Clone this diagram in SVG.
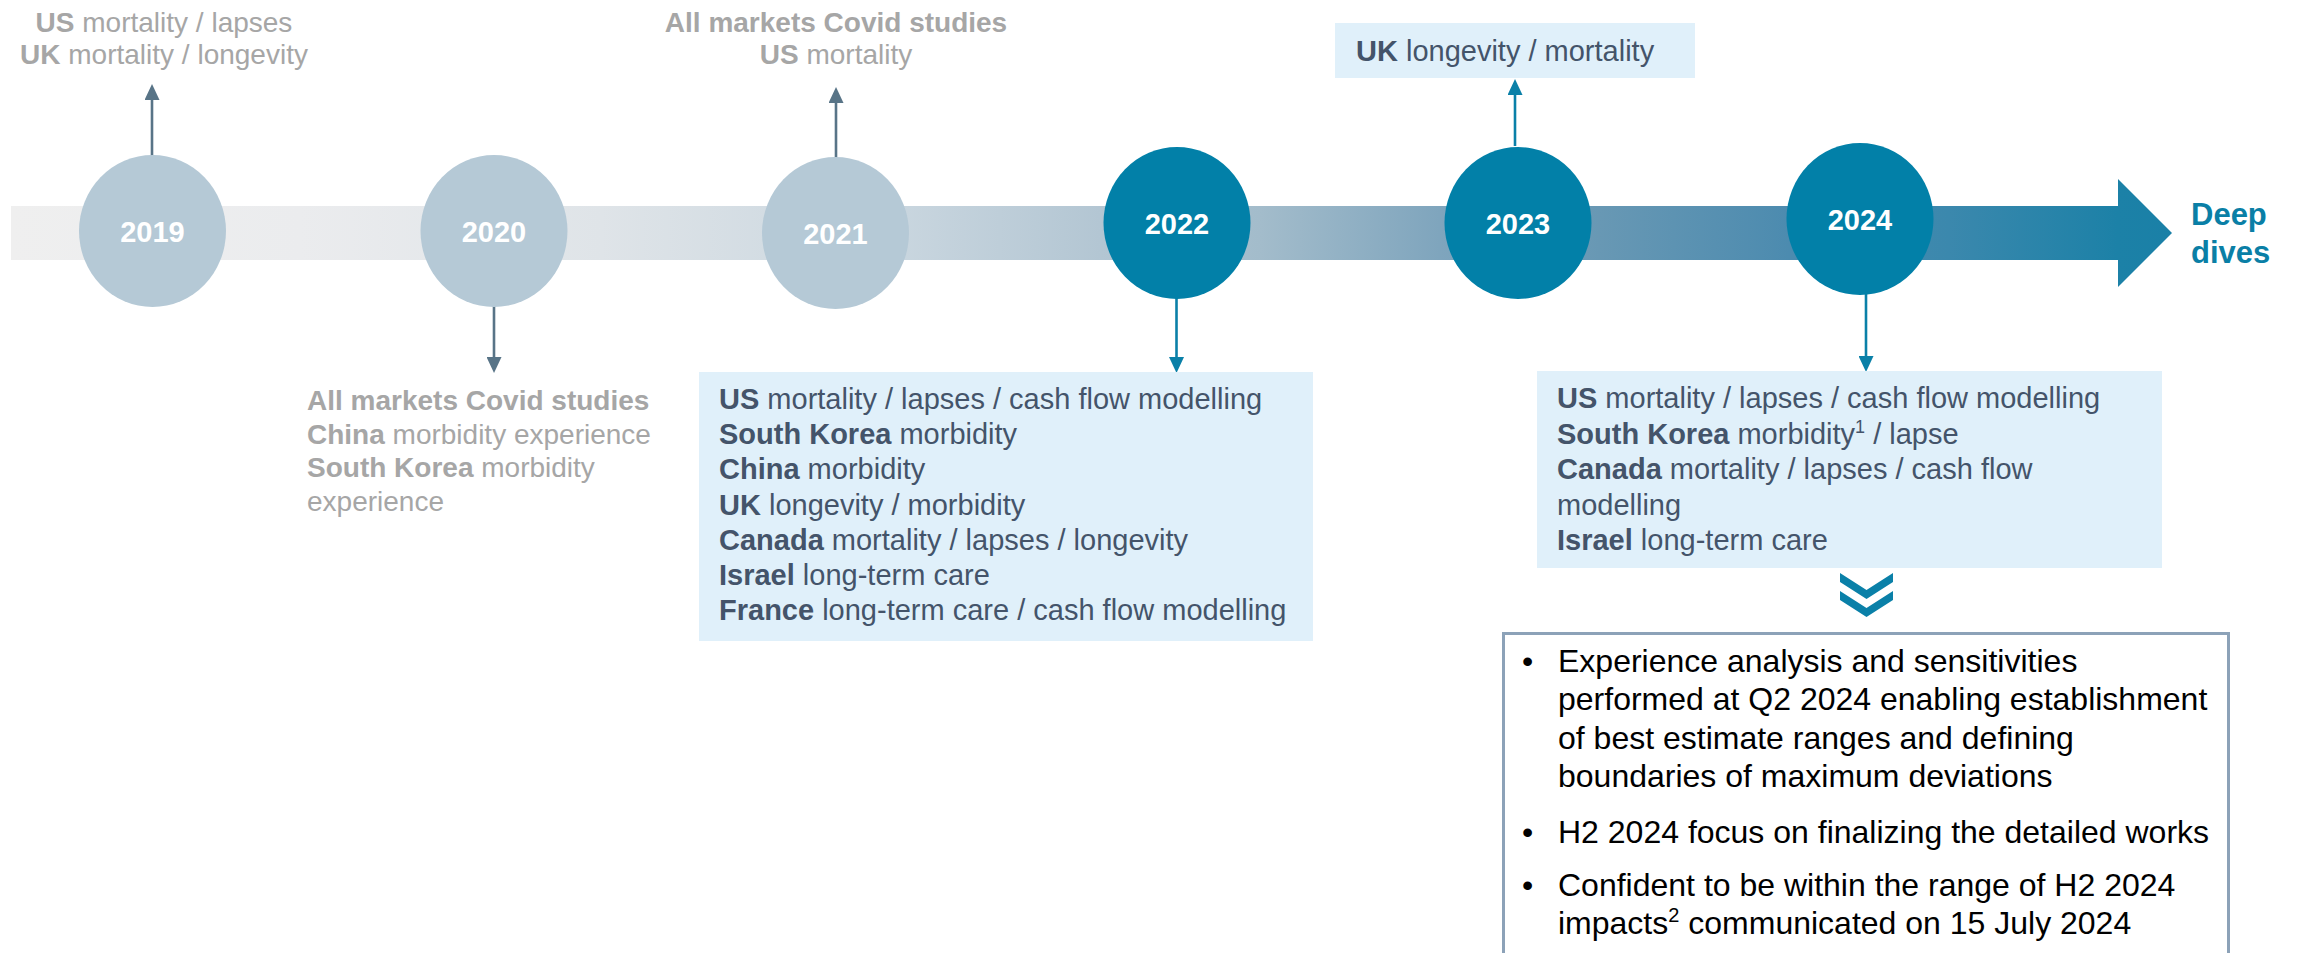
<svg xmlns="http://www.w3.org/2000/svg" width="2300" height="953" viewBox="0 0 2300 953">
<style>
text{font-family:"Liberation Sans",Arial,sans-serif}
.b{font-weight:bold}
.grey{fill:#a6a6a6;font-size:28px}
.box{fill:#e0f0fa}
.bt{fill:#44546a;font-size:29px}
.yr{fill:#ffffff;font-size:29px;font-weight:bold;text-anchor:middle}
.light{fill:#b5c9d6}
.dark{fill:#0280a8}
.ls{stroke:#587487;stroke-width:2.6;fill:none}
.lt{stroke:#0a80a8;stroke-width:2.6;fill:none}
.bul{fill:#000000;font-size:32px}
</style>
<defs>
<linearGradient id="bar" gradientUnits="userSpaceOnUse" x1="11" y1="0" x2="2172" y2="0">
<stop offset="0" stop-color="#efefef"/>
<stop offset="0.134" stop-color="#ebecee"/>
<stop offset="0.273" stop-color="#dfe4e8"/>
<stop offset="0.411" stop-color="#c9d6df"/>
<stop offset="0.504" stop-color="#b3c6d3"/>
<stop offset="0.578" stop-color="#a3bccb"/>
<stop offset="0.661" stop-color="#7fa5bd"/>
<stop offset="0.735" stop-color="#6898b4"/>
<stop offset="0.823" stop-color="#4c8baf"/>
<stop offset="0.897" stop-color="#3b88ad"/>
<stop offset="0.975" stop-color="#1c81a7"/>
<stop offset="1" stop-color="#1a80a7"/>
</linearGradient>
<marker id="ms" markerUnits="userSpaceOnUse" markerWidth="16" markerHeight="15" refX="0" refY="7.5" orient="auto" viewBox="0 0 16 15">
<path d="M0,0 L16,7.5 L0,15 Z" fill="#587487"/>
</marker>
<marker id="mt" markerUnits="userSpaceOnUse" markerWidth="16" markerHeight="15" refX="0" refY="7.5" orient="auto" viewBox="0 0 16 15">
<path d="M0,0 L16,7.5 L0,15 Z" fill="#0a80a8"/>
</marker>
</defs>

<g id="timeline-arrow">
<path d="M11,206 H2118 V179 L2172,233 L2118,287 V260 H11 Z" fill="url(#bar)"/>
<text x="2191" y="225" class="b" style="fill:#0a7fa6;font-size:31px">Deep</text>
<text x="2191" y="263" class="b" style="fill:#0a7fa6;font-size:31px">dives</text>
</g>

<g id="connectors">
<line class="ls" x1="152" y1="156" x2="152" y2="100" marker-end="url(#ms)"/>
<line class="ls" x1="494" y1="306" x2="494" y2="357" marker-end="url(#ms)"/>
<line class="ls" x1="836" y1="158" x2="836" y2="103" marker-end="url(#ms)"/>
<line class="lt" x1="1176.5" y1="298" x2="1176.5" y2="357" marker-end="url(#mt)"/>
<line class="lt" x1="1515" y1="146" x2="1515" y2="95" marker-end="url(#mt)"/>
<line class="lt" x1="1866" y1="294" x2="1866" y2="356" marker-end="url(#mt)"/>
</g>

<g id="y2019">
<ellipse class="light" cx="152.5" cy="231" rx="73.5" ry="76"/>
<text class="yr" x="152.5" y="242">2019</text>
</g>
<g id="y2020">
<ellipse class="light" cx="494" cy="231" rx="73.5" ry="76"/>
<text class="yr" x="494" y="242">2020</text>
</g>
<g id="y2021">
<ellipse class="light" cx="835.5" cy="233" rx="73.5" ry="76"/>
<text class="yr" x="835.5" y="244">2021</text>
</g>
<g id="y2022">
<ellipse class="dark" cx="1177" cy="223" rx="73.5" ry="76"/>
<text class="yr" x="1177" y="234">2022</text>
</g>
<g id="y2023">
<ellipse class="dark" cx="1518" cy="223" rx="73.5" ry="76"/>
<text class="yr" x="1518" y="234">2023</text>
</g>
<g id="y2024">
<ellipse class="dark" cx="1860" cy="219" rx="73.5" ry="76"/>
<text class="yr" x="1860" y="230">2024</text>
</g>

<g id="note2019">
<text class="grey" x="164" y="32" text-anchor="middle"><tspan class="b">US</tspan> mortality / lapses</text>
<text class="grey" x="164" y="64" text-anchor="middle"><tspan class="b">UK</tspan> mortality / longevity</text>
</g>

<g id="note2020">
<text class="grey" x="307" y="410"><tspan class="b">All markets Covid studies</tspan></text>
<text class="grey" x="307" y="443.5"><tspan class="b">China</tspan> morbidity experience</text>
<text class="grey" x="307" y="477"><tspan class="b">South Korea</tspan> morbidity</text>
<text class="grey" x="307" y="510.5">experience</text>
</g>

<g id="note2021">
<text class="grey" x="836" y="32" text-anchor="middle"><tspan class="b">All markets Covid studies</tspan></text>
<text class="grey" x="836" y="64" text-anchor="middle"><tspan class="b">US</tspan> mortality</text>
</g>

<g id="note2022">
<rect class="box" x="699" y="372" width="614" height="269"/>
<text class="bt" x="719" y="409"><tspan class="b">US</tspan> mortality / lapses / cash flow modelling</text>
<text class="bt" x="719" y="444.2"><tspan class="b">South Korea</tspan> morbidity</text>
<text class="bt" x="719" y="479.4"><tspan class="b">China</tspan> morbidity</text>
<text class="bt" x="719" y="514.6"><tspan class="b">UK</tspan> longevity / morbidity</text>
<text class="bt" x="719" y="549.8"><tspan class="b">Canada</tspan> mortality / lapses / longevity</text>
<text class="bt" x="719" y="585"><tspan class="b">Israel</tspan> long-term care</text>
<text class="bt" x="719" y="620.2"><tspan class="b">France</tspan> long-term care / cash flow modelling</text>
</g>

<g id="note2023">
<rect class="box" x="1335" y="23" width="360" height="55"/>
<text class="bt" x="1356" y="61"><tspan class="b">UK</tspan> longevity / mortality</text>
</g>

<g id="note2024">
<rect class="box" x="1537" y="371" width="625" height="197"/>
<text class="bt" x="1557" y="408"><tspan class="b">US</tspan> mortality / lapses / cash flow modelling</text>
<text class="bt" x="1557" y="443.5"><tspan class="b">South Korea</tspan> morbidity<tspan font-size="18" dy="-11">1</tspan><tspan dy="11"> / lapse</tspan></text>
<text class="bt" x="1557" y="479"><tspan class="b">Canada</tspan> mortality / lapses / cash flow</text>
<text class="bt" x="1557" y="514.5">modelling</text>
<text class="bt" x="1557" y="550"><tspan class="b">Israel</tspan> long-term care</text>
</g>

<g id="chevrons" fill="#0a80a8">
<polygon points="1840,573 1866.5,590 1893,573 1893,582 1866.5,599 1840,582"/>
<polygon points="1840,591 1866.5,608 1893,591 1893,600 1866.5,617 1840,600"/>
</g>

<g id="summary">
<rect x="1503.5" y="633.5" width="725" height="330" fill="#ffffff" stroke="#8ca2b8" stroke-width="3"/>
<text class="bul" x="1522" y="672">•</text>
<text class="bul" x="1558" y="672">Experience analysis and sensitivities</text>
<text class="bul" x="1558" y="710">performed at Q2 2024 enabling establishment</text>
<text class="bul" x="1558" y="748.5">of best estimate ranges and defining</text>
<text class="bul" x="1558" y="787">boundaries of maximum deviations</text>
<text class="bul" x="1522" y="843">•</text>
<text class="bul" x="1558" y="843">H2 2024 focus on finalizing the detailed works</text>
<text class="bul" x="1522" y="896">•</text>
<text class="bul" x="1558" y="896">Confident to be within the range of H2 2024</text>
<text class="bul" x="1558" y="934">impacts<tspan font-size="20" dy="-12">2</tspan><tspan dy="12"> communicated on 15 July 2024</tspan></text>
</g>
</svg>
